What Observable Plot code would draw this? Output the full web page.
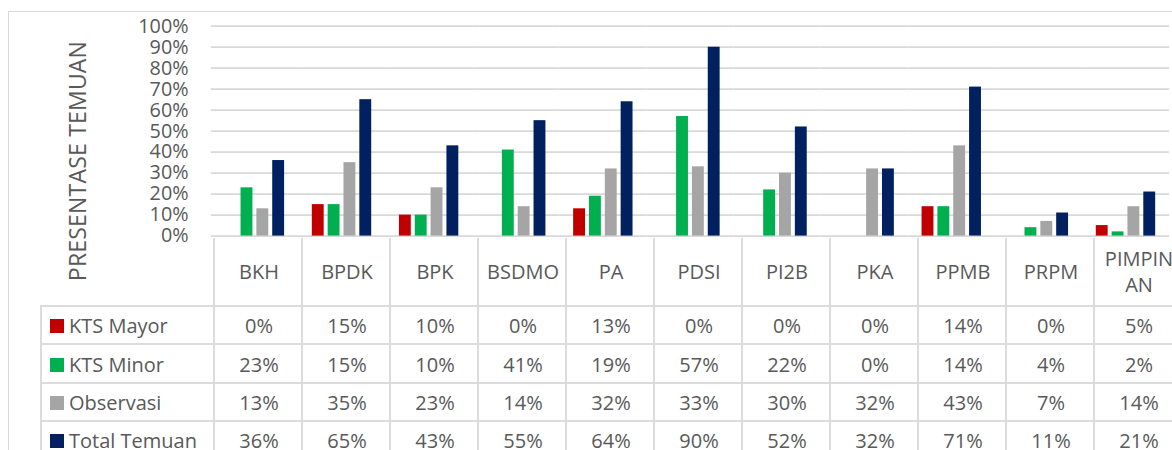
<!DOCTYPE html>
<html>
<head>
<meta charset="utf-8">
<script src="https://cdn.jsdelivr.net/npm/d3@7"></script>
<script src="https://cdn.jsdelivr.net/npm/@observablehq/plot@0.6"></script>
<style>
  html, body { margin: 0; padding: 0; background: #fff; overflow: hidden; }
  #wrap { position: relative; width: 1172px; height: 450px; overflow: hidden; background: #fff;
          font-family: "Open Sans", sans-serif; color: #595959; }
  #frame { position: absolute; left: 8px; top: 11px; width: 1400px; height: 600px;
           border: 1.5px solid #d9d9d9; box-sizing: border-box; }
  #chart { position: absolute; left: 0; top: 0; }
  .cell { position: absolute; box-sizing: border-box; display: flex; align-items: center;
          justify-content: center; text-align: center; font-size: 20px; line-height: 26px;
          border-left: 2px solid #dcdcdc; border-top: 2px solid #dcdcdc; white-space: pre; color: #595959; }
  .legend { justify-content: flex-start; padding-left: 8px; }
  .sw { width: 14px; height: 14px; margin-right: 5px; flex: none; }
  #ytitle { position: absolute; left: 77px; top: 161px; transform: translate(-50%, -50%) rotate(-90deg);
            font-size: 23px; white-space: nowrap; color: #595959; letter-spacing: 0.2px; }
</style>
</head>
<body>
<div id="wrap">
  <div id="frame"></div>
  <div id="chart"></div>
  <div id="ytitle">PRESENTASE TEMUAN</div>
</div>
<script>
const categories = ["BKH","BPDK","BPK","BSDMO","PA","PDSI","PI2B","PKA","PPMB","PRPM","PIMPINAN"];
const categoryLabels = ["BKH","BPDK","BPK","BSDMO","PA","PDSI","PI2B","PKA","PPMB","PRPM","PIMPIN\nAN"];
const seriesNames = ["KTS Mayor","KTS Minor","Observasi","Total Temuan"];
const seriesColors = ["#C00000","#00B050","#A5A5A5","#002060"];
const ktsMayor   = [0.00,0.15,0.10,0.00,0.13,0.00,0.00,0.00,0.14,0.00,0.05];
const ktsMinor   = [0.23,0.15,0.10,0.41,0.19,0.57,0.22,0.00,0.14,0.04,0.02];
const observasi  = [0.13,0.35,0.23,0.14,0.32,0.33,0.30,0.32,0.43,0.07,0.14];
const totalTemuan= [0.36,0.65,0.43,0.55,0.64,0.90,0.52,0.32,0.71,0.11,0.21];
const yTicks = [0,0.1,0.2,0.3,0.4,0.5,0.6,0.7,0.8,0.9,1.0];

const seriesValues = [ktsMayor, ktsMinor, observasi, totalTemuan];
const data = [];
categories.forEach((c, i) => {
  seriesNames.forEach((s, j) => data.push({cat: c, series: s, value: seriesValues[j][i]}));
});

const pct = d3.format(".0%");

const plot = Plot.plot({
  width: 1184,
  height: 450,
  marginLeft: 209,
  marginRight: 0,
  marginTop: 26,
  marginBottom: 212,
  style: {fontFamily: "'Open Sans', sans-serif", fontSize: "20px", color: "#595959", background: "transparent"},
  fx: {domain: categories, padding: 0, axis: null},
  x: {domain: seriesNames, paddingInner: 0.22, paddingOuter: 0.86, axis: null},
  y: {domain: [0, 1], axis: null},
  color: {domain: seriesNames, range: seriesColors},
  marks: [
    Plot.ruleY(yTicks, {stroke: "#d9d9d9", strokeWidth: 1.8}),
    Plot.axisY(yTicks, {tickFormat: pct, tickSize: 0, tickPadding: 23, label: null, fontSize: 20, fill: "#595959", facetAnchor: "left"}),
    Plot.barY(data, {fx: "cat", x: "series", y: "value", fill: "series"})
  ]
});
document.getElementById("chart").appendChild(plot);

// Data table aligned with the plot's fx scale
const fx = plot.scale("fx");
const bw = fx.bandwidth;
const wrap = document.getElementById("wrap");
const headerTop = 238, headerH = 67, rowH = 38.4, legendLeft = 40;
const plotLeft = fx.apply(categories[0]);

function addCell(left, top, w, h, html, cls) {
  const d = document.createElement("div");
  d.className = "cell" + (cls ? " " + cls : "");
  d.style.left = left + "px"; d.style.top = top + "px";
  d.style.width = w + "px"; d.style.height = h + "px";
  d.innerHTML = html;
  wrap.appendChild(d);
  return d;
}
categories.forEach((c, i) => {
  const d = addCell(fx.apply(c), headerTop, bw + 2, headerH, "", null);
  d.style.borderTop = "none";
  d.textContent = categoryLabels[i];
});
seriesNames.forEach((s, j) => {
  const top = headerTop + headerH + j * rowH;
  const lg = addCell(legendLeft, top, plotLeft - legendLeft + 2, rowH + 2, "", "legend");
  const sw = document.createElement("span"); sw.className = "sw"; sw.style.background = seriesColors[j];
  const tx = document.createElement("span"); tx.textContent = s;
  lg.appendChild(sw); lg.appendChild(tx);
  categories.forEach((c, i) => {
    addCell(fx.apply(c), top, bw + 2, rowH + 2, "", null).textContent = pct(seriesValues[j][i]);
  });
});
</script>
</body>
</html>
